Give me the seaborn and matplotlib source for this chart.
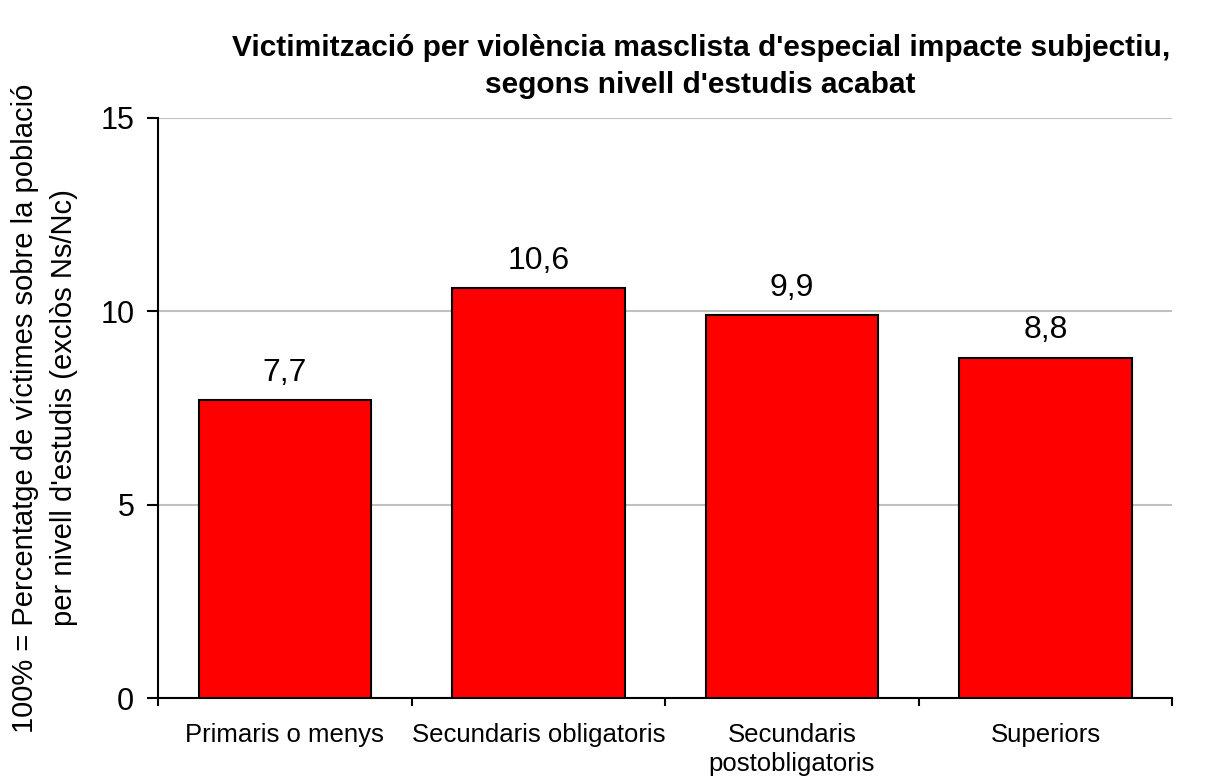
import matplotlib
matplotlib.use("Agg")
import matplotlib.pyplot as plt
import seaborn as sns
import numpy as np
import pandas as pd

categories = ["Primaris o menys", "Secundaris obligatoris", "Secundaris\npostobligatoris", "Superiors"]
values = [7.7, 10.6, 9.9, 8.8]
value_labels = ["7,7", "10,6", "9,9", "8,8"]
yticks = [0, 5, 10, 15]

sns.set_theme(style="white")
plt.rcParams['font.family'] = ['Liberation Sans', 'DejaVu Sans']
plt.rcParams['text.color'] = 'black'
plt.rcParams['axes.labelcolor'] = 'black'
plt.rcParams['xtick.color'] = 'black'
plt.rcParams['ytick.color'] = 'black'

df = pd.DataFrame({"cat": categories, "val": values})

fig = plt.figure(figsize=(12.06, 7.8), dpi=100)
ax = fig.add_axes([0.131, 0.105, 0.841, 0.744])

sns.barplot(data=df, x="cat", y="val", color="#ff0000", saturation=1, width=0.68,
            edgecolor="black", linewidth=1.5, ax=ax, zorder=3)

ax.set_ylim(0, 15)
ax.set_xlim(-0.5, len(categories) - 0.5)
ax.set_yticks(yticks)
ax.set_yticklabels([str(t) for t in yticks], fontsize=22)
ax.yaxis.grid(True, color="#c0c0c0", linewidth=1.5, zorder=0)
ax.set_axisbelow(True)

ax.set_xticks(range(len(categories)))
ax.set_xticklabels(categories, fontsize=18.5, linespacing=1.25)
ax.tick_params(axis="x", which="major", length=0, pad=18, bottom=True)
ax.set_xticks(np.arange(-0.5, len(categories), 1.0), minor=True)
ax.tick_params(axis="x", which="minor", length=6, width=1.5, color="black", direction="out", bottom=True)
ax.tick_params(axis="y", length=8, width=1.5, color="black", direction="out", pad=9, left=True)

for s in ["top", "right"]:
    ax.spines[s].set_visible(False)
for s in ["left", "bottom"]:
    ax.spines[s].set_color("black")
    ax.spines[s].set_linewidth(1.5)

for i, (v, lab) in enumerate(zip(values, value_labels)):
    ax.text(i, v + 0.32, lab, ha="center", va="bottom", fontsize=23)

ax.set_xlabel("")
ax.set_ylabel("100% = Percentatge de víctimes sobre la població\nper nivell d'estudis (exclòs Ns/Nc)",
              fontsize=21, labelpad=16, linespacing=1.5)

fig.suptitle("Victimització per violència masclista d'especial impacte subjectiu,\nsegons nivell d'estudis acabat",
             fontsize=21.5, fontweight="bold", x=0.581, y=0.957, linespacing=1.45)

fig.savefig("out.png", dpi=100)
